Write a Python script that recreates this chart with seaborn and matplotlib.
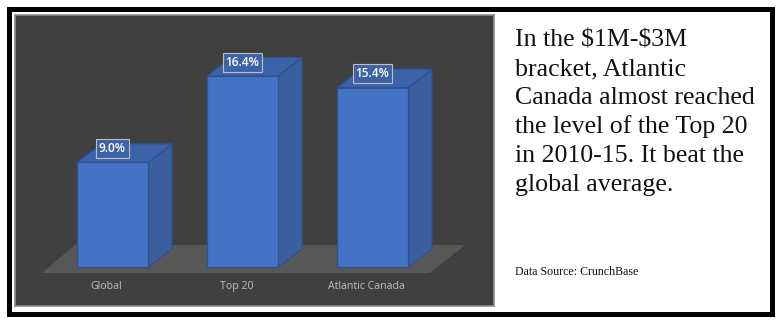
import matplotlib
matplotlib.use("Agg")
import matplotlib.pyplot as plt
import seaborn as sns
import pandas as pd
from matplotlib.patches import Rectangle, Polygon

categories = ["Global", "Top 20", "Atlantic Canada"]
values = [9.0, 16.4, 15.4]
value_labels = ["9.0%", "16.4%", "15.4%"]
caption_lines = [r"In the \$1M-\$3M", "bracket, Atlantic", "Canada almost reached",
                 "the level of the Top 20", "in 2010-15. It beat the", "global average."]
source_text = "Data Source: CrunchBase"

W, H = 783, 326
sns.set_theme(style="white")
plt.rcParams['font.family'] = ['Open Sans', 'DejaVu Sans']

fig = plt.figure(figsize=(W / 100, H / 100), dpi=100)
fig.patch.set_facecolor("white")

# outer black frame
fig.patches.append(Rectangle((8.5 / W, 1 - 313.5 / H), (771.5 - 8.5) / W, (313.5 - 8.5) / H,
                             transform=fig.transFigure, fill=False, edgecolor="black",
                             linewidth=5 * 0.72, zorder=0))

ax = fig.add_axes([15 / W, 1 - 306 / H, (494 - 15) / W, (306 - 15) / H])
ax.set_facecolor("#404040")

FRONT = "#4472C4"
SIDE = "#3A5E9E"
TOP = "#3C63AA"
EDGE = "#2F528F"
bw = 0.546
dx, dy = 0.185, 1.6

df = pd.DataFrame({"cat": categories, "val": values})
sns.barplot(data=df, x="cat", y="val", color=FRONT, width=bw, saturation=1,
            edgecolor=EDGE, linewidth=0.9, ax=ax, zorder=3)

# floor
floor = Polygon([(-0.542, -0.47), (2.442, -0.47), (2.712, 1.93), (-0.288, 1.93)],
                closed=True, facecolor="#575757", edgecolor="none", zorder=1)
ax.add_patch(floor)

for i, p in enumerate(ax.patches[:len(values)]):
    x0 = p.get_x(); w = p.get_width(); h = p.get_height(); y0 = p.get_y()
    x1 = x0 + w; y1 = y0 + h
    side = Polygon([(x1, y0), (x1 + dx, y0 + dy), (x1 + dx, y1 + dy), (x1, y1)],
                   closed=True, facecolor=SIDE, edgecolor=EDGE, linewidth=0.9, zorder=2.9)
    top = Polygon([(x0, y1), (x1, y1), (x1 + dx, y1 + dy), (x0 + dx, y1 + dy)],
                  closed=True, facecolor=TOP, edgecolor=EDGE, linewidth=0.9, zorder=2.9)
    ax.add_patch(side)
    ax.add_patch(top)
    cx = x0 + w / 2
    ax.text(cx, y1 + 1.2, value_labels[i], ha="center", va="center", color="white",
            fontsize=8.6, fontweight="semibold", zorder=5,
            bbox=dict(boxstyle="square,pad=0.25", facecolor="#3D62A6",
                      edgecolor="#BFBFBF", linewidth=0.8))
    ax.text(i - 0.045, -1.62, categories[i], ha="center", va="center",
            color="#BFBFBF", fontsize=7.6, zorder=5)

ax.set_xlim(-0.75, 2.935)
ax.set_ylim(-3.30, 21.64)
ax.set_xticks([]); ax.set_yticks([])
ax.set_xlabel(""); ax.set_ylabel("")
for s in ax.spines.values():
    s.set_visible(True)
    s.set_color("#8C8C8C")
    s.set_linewidth(1.2)

# caption text on the right
y = 46
for line in caption_lines:
    fig.text(515 / W, 1 - y / H, line, ha="left", va="baseline",
             family=["Liberation Serif", "DejaVu Serif"], fontsize=18.6, color="#111111")
    y += 29
fig.text(515 / W, 1 - 275 / H, source_text, ha="left", va="baseline",
         family=["Liberation Serif", "DejaVu Serif"], fontsize=8.6, color="#111111")

fig.savefig("out.png", dpi=100, facecolor="white")
